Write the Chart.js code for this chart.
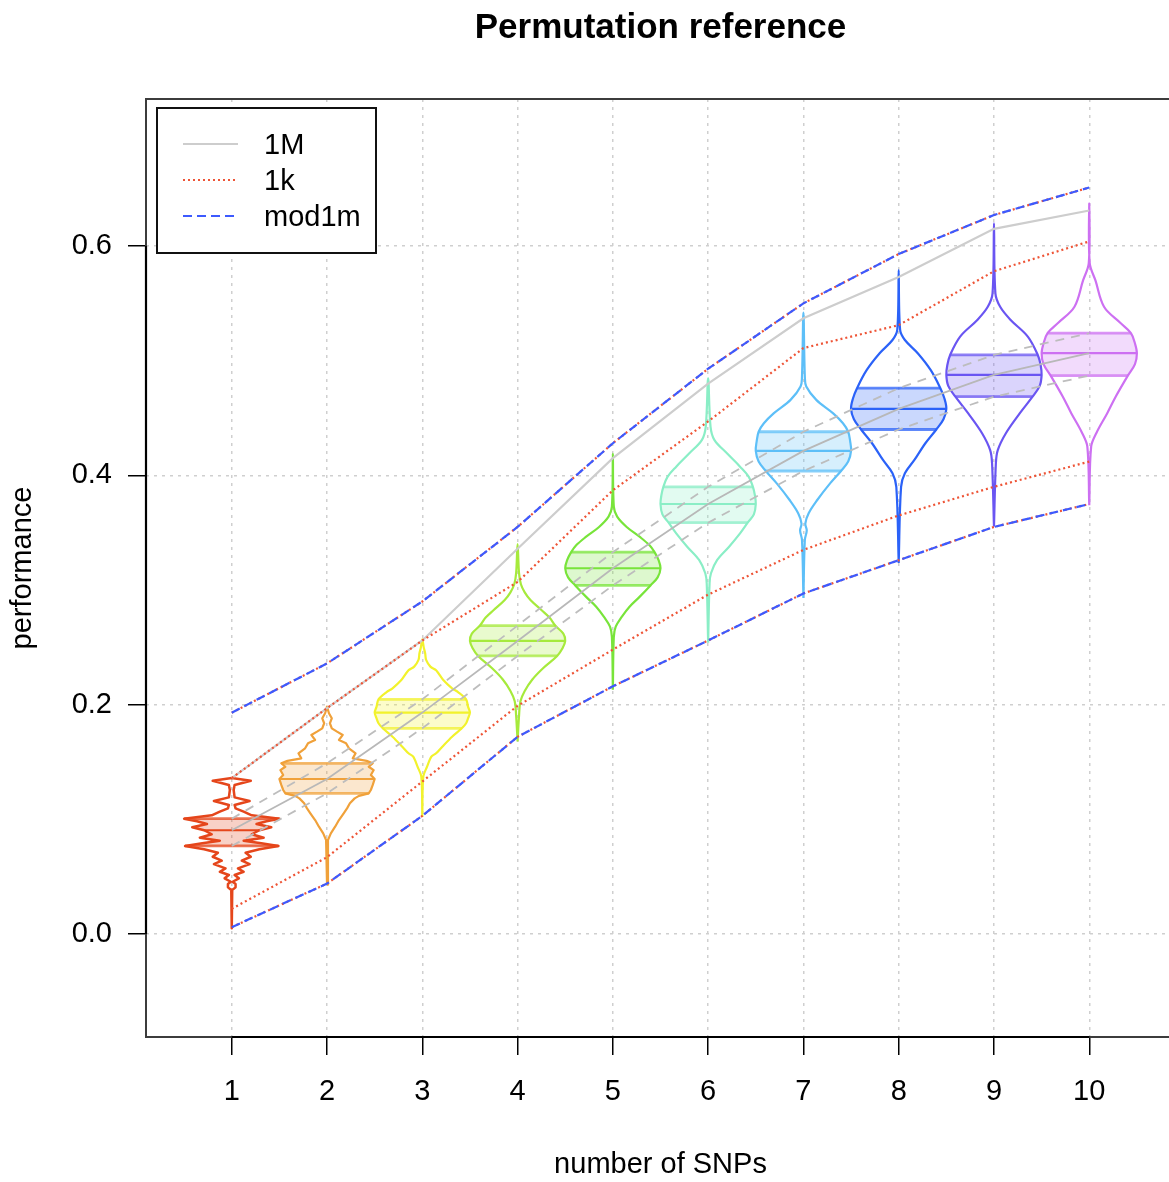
<!DOCTYPE html>
<html>
<head>
<meta charset="utf-8">
<title>Permutation reference</title>
<script src="https://cdn.jsdelivr.net/npm/chart.js@4/dist/chart.umd.min.js"></script>
<style>
  html, body { margin: 0; padding: 0; background: #ffffff; overflow: hidden; }
  #wrap { width: 1320px; height: 1182px; }
  canvas { display: block; }
</style>
</head>
<body>
<div id="wrap"><canvas id="chart" width="1320" height="1182"></canvas></div>
<script>
// ---- values ----
const snps = [1, 2, 3, 4, 5, 6, 7, 8, 9, 10];
const yTicks = [0.0, 0.2, 0.4, 0.6];

// reference bands
const ref1MUpper  = [0.136, 0.197, 0.256, 0.336, 0.415, 0.480, 0.537, 0.573, 0.615, 0.631];
const ref1kUpper  = [0.136, 0.197, 0.256, 0.307, 0.387, 0.447, 0.511, 0.531, 0.578, 0.604];
const ref1kLower  = [0.022, 0.067, 0.133, 0.199, 0.248, 0.296, 0.335, 0.365, 0.390, 0.412];
const mod1mUpper  = [0.193, 0.236, 0.290, 0.355, 0.428, 0.493, 0.550, 0.593, 0.627, 0.651];
const mod1mLower  = [0.006, 0.044, 0.103, 0.172, 0.216, 0.256, 0.297, 0.326, 0.355, 0.375];

// permutation distribution summaries
const permQ1     = [0.0768, 0.1227, 0.1794, 0.2425, 0.304, 0.3587, 0.4038, 0.440, 0.4686, 0.487];
const permMedian = [0.0905, 0.1352, 0.1931, 0.2556, 0.319, 0.375, 0.4213, 0.458, 0.4876, 0.5065];
const permQ3     = [0.1006, 0.1489, 0.2047, 0.269, 0.333, 0.390, 0.438, 0.476, 0.505, 0.524];

// density profiles: performance levels (low to high) and relative density at each level
const densityLevels = [
  [0.005, 0.0384, 0.0407, 0.0436, 0.0456, 0.0486, 0.0515, 0.0543, 0.0573, 0.061, 0.064, 0.0674, 0.0709, 0.0739, 0.0768, 0.0791, 0.0814, 0.084, 0.087, 0.0905, 0.0931, 0.0959, 0.0983, 0.1006, 0.1035, 0.1067, 0.1096, 0.1125, 0.116, 0.1192, 0.1256, 0.13, 0.1337, 0.136],
  [0.043, 0.082, 0.0878, 0.0936, 0.0994, 0.1053, 0.1096, 0.114, 0.1183, 0.1205, 0.1227, 0.1256, 0.13, 0.1352, 0.1387, 0.143, 0.1459, 0.1489, 0.151, 0.1532, 0.1576, 0.162, 0.1663, 0.1692, 0.1736, 0.1765, 0.1794, 0.1838, 0.1881, 0.1925, 0.1983],
  [0.102, 0.137, 0.146, 0.1547, 0.1576, 0.1634, 0.1721, 0.1794, 0.1838, 0.1881, 0.1931, 0.1983, 0.2047, 0.211, 0.2143, 0.2215, 0.230, 0.2332, 0.239, 0.2448, 0.250, 0.257],
  [0.168, 0.190, 0.203, 0.212, 0.222, 0.232, 0.2425, 0.249, 0.2556, 0.262, 0.269, 0.276, 0.2826, 0.2913, 0.298, 0.305, 0.315, 0.340],
  [0.213, 0.259, 0.268, 0.2768, 0.2855, 0.294, 0.304, 0.311, 0.319, 0.326, 0.333, 0.339, 0.3465, 0.355, 0.364, 0.3727, 0.419],
  [0.254, 0.306, 0.3146, 0.3262, 0.3378, 0.3494, 0.3587, 0.366, 0.375, 0.383, 0.390, 0.3989, 0.4076, 0.419, 0.431, 0.4425, 0.4846],
  [0.293, 0.3437, 0.352, 0.358, 0.367, 0.3785, 0.393, 0.4038, 0.412, 0.4213, 0.430, 0.438, 0.4454, 0.454, 0.4658, 0.4774, 0.486, 0.542],
  [0.3236, 0.390, 0.4018, 0.4134, 0.428, 0.440, 0.449, 0.458, 0.467, 0.476, 0.4919, 0.5065, 0.518, 0.5268, 0.579],
  [0.3553, 0.4105, 0.422, 0.4367, 0.454, 0.4686, 0.478, 0.4876, 0.496, 0.505, 0.521, 0.5355, 0.547, 0.5587, 0.620],
  [0.374, 0.425, 0.437, 0.454, 0.469, 0.487, 0.497, 0.5065, 0.515, 0.524, 0.533, 0.547, 0.570, 0.585, 0.637]
];
const densityWidths = [
  [0, 0.01, 0.08, 0.08, 0.02, 0.15, 0.06, 0.25, 0.13, 0.375, 0.21, 0.40, 0.29, 0.58, 0.98, 0.62, 0.25, 0.67, 0.42, 0.58, 0.83, 0.52, 0.73, 1.0, 0.42, 0.25, 0.08, 0.06, 0.375, 0.06, 0.04, 0.06, 0.40, 0],
  [0, 0.02, 0.08, 0.17, 0.25, 0.35, 0.42, 0.48, 0.58, 0.67, 0.875, 0.92, 0.96, 1.0, 0.92, 0.98, 0.875, 0.96, 0.83, 0.54, 0.60, 0.46, 0.40, 0.25, 0.33, 0.21, 0.10, 0.06, 0.10, 0.04, 0],
  [0, 0.02, 0.10, 0.19, 0.29, 0.42, 0.625, 0.83, 0.92, 0.96, 1.0, 0.96, 0.92, 0.75, 0.625, 0.44, 0.29, 0.17, 0.08, 0.06, 0.03, 0],
  [0, 0.03, 0.06, 0.15, 0.31, 0.54, 0.83, 0.94, 1.0, 0.96, 0.79, 0.67, 0.50, 0.27, 0.15, 0.07, 0.03, 0],
  [0, 0.02, 0.06, 0.19, 0.35, 0.56, 0.79, 0.94, 1.0, 0.96, 0.875, 0.77, 0.56, 0.29, 0.09, 0.02, 0],
  [0, 0.03, 0.06, 0.19, 0.44, 0.67, 0.83, 0.96, 1.0, 0.98, 0.94, 0.85, 0.67, 0.40, 0.13, 0.05, 0],
  [0, 0.03, 0.07, 0.04, 0.11, 0.29, 0.56, 0.79, 0.94, 1.0, 0.98, 0.94, 0.83, 0.625, 0.27, 0.06, 0.03, 0],
  [0, 0.05, 0.13, 0.33, 0.56, 0.79, 0.94, 1.0, 0.96, 0.875, 0.67, 0.40, 0.13, 0.03, 0],
  [0, 0.04, 0.08, 0.25, 0.54, 0.81, 0.96, 1.0, 0.98, 0.92, 0.71, 0.35, 0.13, 0.03, 0],
  [0, 0.04, 0.15, 0.375, 0.56, 0.81, 0.96, 1.0, 0.96, 0.875, 0.65, 0.31, 0.13, 0.01, 0]
];

// ---- styles ----
const FONT = '"Liberation Sans", Arial, Helvetica, sans-serif';
const VIOLIN_HALF = 0.5;   // half-width (x units) of the widest violin slice
const violinStroke = ['#E5461B', '#F0A13A', '#F2F22C', '#A6EA3C', '#78E43A', '#8AEEC6', '#5DBFF8', '#2B62F8', '#6A55F2', '#CD70F2'];
const violinTension = [0, 0, 0.3, 0.35, 0.35, 0.35, 0.35, 0.35, 0.35, 0.35];

const style1M   = { color: '#CDCDCD', width: 2.2, dash: [] };
const style1k   = { color: '#EE5436', width: 2.2, dash: [2, 3] };
const styleMod  = { color: '#3D5AFE', width: 2.2, dash: [9, 5] };
const styleMid  = { color: '#B8B8B8', width: 1.8, dash: [] };
const styleQuart = { color: '#BDBDBD', width: 1.8, dash: [9, 7] };

function rgba(hex, a) {
  const n = parseInt(hex.slice(1), 16);
  return `rgba(${(n >> 16) & 255},${(n >> 8) & 255},${n & 255},${a})`;
}

function widthAt(i, level) {
  const lv = densityLevels[i], w = densityWidths[i];
  for (let k = 0; k < lv.length - 1; k++) {
    if (level >= lv[k] && level <= lv[k + 1]) {
      const t = (level - lv[k]) / (lv[k + 1] - lv[k]);
      return (w[k] + t * (w[k + 1] - w[k])) * VIOLIN_HALF;
    }
  }
  return 0;
}

// closed violin outline: up the right side, back down the left side
function outline(i) {
  const lv = densityLevels[i], w = densityWidths[i], x0 = snps[i];
  const right = lv.map((v, k) => ({ x: x0 + w[k] * VIOLIN_HALF, y: v }));
  const left = lv.map((v, k) => ({ x: x0 - w[k] * VIOLIN_HALF, y: v })).reverse();
  return right.concat(left.slice(1));
}

function series(values) {
  return snps.map((s, i) => ({ x: s, y: values[i] }));
}

const base = { showLine: true, pointRadius: 0, pointHoverRadius: 0, fill: false };
function lineDataset(values, st, order) {
  return Object.assign({}, base, {
    data: series(values), borderColor: st.color, borderWidth: st.width,
    borderDash: st.dash, tension: 0, order: order
  });
}

const datasets = [];
const outlineIndex = [];
snps.forEach((s, i) => {
  outlineIndex.push(datasets.length);
  datasets.push(Object.assign({}, base, {
    data: outline(i), borderColor: violinStroke[i], borderWidth: i === 0 ? 2.5 : 2.2,
    borderJoinStyle: 'round', tension: violinTension[i], order: 8
  }));
  [permQ1, permMedian, permQ3].forEach((arr, j) => {
    const q = arr[i], w = widthAt(i, q);
    datasets.push(Object.assign({}, base, {
      data: [{ x: s - w, y: q }, { x: s + w, y: q }],
      borderColor: j === 1 ? violinStroke[i] : rgba(violinStroke[i], 0.75),
      borderWidth: j === 1 ? 2.2 : 2.8, tension: 0, order: 7
    }));
  });
});

// quartile / median connectors
datasets.push(lineDataset(permQ1, styleQuart, 5));
datasets.push(lineDataset(permQ3, styleQuart, 5));
datasets.push(lineDataset(permMedian, styleMid, 5));
// reference bands
datasets.push(lineDataset(ref1MUpper, style1M, 4));
datasets.push(lineDataset(mod1mUpper, style1k, 3));
datasets.push(lineDataset(mod1mLower, style1k, 3));
datasets.push(lineDataset(ref1kUpper, style1k, 2));
datasets.push(lineDataset(ref1kLower, style1k, 2));
datasets.push(lineDataset(mod1mUpper, styleMod, 1));
datasets.push(lineDataset(mod1mLower, styleMod, 1));

const legendItems = [
  { label: '1M', st: style1M },
  { label: '1k', st: style1k },
  { label: 'mod1m', st: styleMod }
];

// shade the interquartile part of each violin, under the outlines
const violinFillPlugin = {
  id: 'violinFill',
  beforeDatasetsDraw(chart) {
    const { ctx, chartArea: a } = chart;
    const y = chart.scales.y;
    outlineIndex.forEach((dsIndex, i) => {
      const meta = chart.getDatasetMeta(dsIndex);
      const line = meta.dataset;
      if (!line) return;
      if (typeof line.updateControlPoints === 'function') line.updateControlPoints(a, meta.iScale.axis);
      const top = y.getPixelForValue(permQ3[i]);
      const bottom = y.getPixelForValue(permQ1[i]);
      ctx.save();
      ctx.beginPath();
      ctx.rect(a.left, top, a.right - a.left, bottom - top);
      ctx.clip();
      ctx.beginPath();
      line.path(ctx);
      ctx.closePath();
      ctx.fillStyle = rgba(violinStroke[i], 0.25);
      ctx.fill();
      ctx.restore();
    });
  }
};

// plot frame, axis lines over the tick range, and the legend box
const framePlugin = {
  id: 'frame',
  afterDraw(chart) {
    const { ctx, chartArea: a } = chart;
    const x = chart.scales.x, y = chart.scales.y;
    ctx.save();
    ctx.setLineDash([]);
    ctx.strokeStyle = '#3c3c3c';
    ctx.lineWidth = 2;
    ctx.strokeRect(a.left, a.top, a.right - a.left, a.bottom - a.top);
    ctx.strokeStyle = '#000';
    ctx.lineWidth = 2.2;
    ctx.beginPath();
    ctx.moveTo(x.getPixelForValue(snps[0]), a.bottom);
    ctx.lineTo(x.getPixelForValue(snps[snps.length - 1]), a.bottom);
    ctx.moveTo(a.left, y.getPixelForValue(yTicks[0]));
    ctx.lineTo(a.left, y.getPixelForValue(yTicks[yTicks.length - 1]));
    ctx.stroke();

    const lx = a.left + 11, ly = a.top + 9, lw = 219, lh = 145;
    ctx.fillStyle = '#fff';
    ctx.fillRect(lx, ly, lw, lh);
    ctx.strokeStyle = '#111';
    ctx.lineWidth = 2;
    ctx.strokeRect(lx, ly, lw, lh);
    ctx.font = '29px ' + FONT;
    ctx.textBaseline = 'middle';
    ctx.textAlign = 'left';
    legendItems.forEach((it, k) => {
      const ry = ly + 36 + k * 36;
      ctx.strokeStyle = it.st.color;
      ctx.lineWidth = it.st.width;
      ctx.setLineDash(it.st.dash);
      ctx.beginPath();
      ctx.moveTo(lx + 26, ry);
      ctx.lineTo(lx + 81, ry);
      ctx.stroke();
      ctx.setLineDash([]);
      ctx.fillStyle = '#000';
      ctx.fillText(it.label, lx + 107, ry + 2);
    });
    ctx.restore();
  }
};

Chart.defaults.font.family = FONT;

new Chart(document.getElementById('chart'), {
  type: 'scatter',
  data: { datasets: datasets },
  plugins: [violinFillPlugin, framePlugin],
  options: {
    responsive: false,
    animation: false,
    devicePixelRatio: 1,
    events: [],
    layout: { padding: { left: 0, right: 145, top: 0, bottom: 0 } },
    plugins: {
      legend: { display: false },
      tooltip: { enabled: false },
      title: {
        display: true, text: 'Permutation reference', color: '#000',
        fullSize: false,
        font: { size: 35, weight: 'bold', family: FONT },
        padding: { top: 7, bottom: 50 }
      }
    },
    scales: {
      x: {
        type: 'linear', min: 0.1, max: 10.9,
        afterBuildTicks: s => { s.ticks = snps.map(v => ({ value: v })); },
        afterFit: s => { s.height = 145; },
        ticks: { autoSkip: false, maxRotation: 0, padding: 20, color: '#000', font: { size: 29 }, callback: v => String(v) },
        grid: { color: '#CFCFCF', lineWidth: 1.5, tickLength: 18, tickColor: '#000', tickWidth: 1.5, tickBorderDash: [] },
        border: { display: false, dash: [3, 5] },
        title: { display: true, text: 'number of SNPs', color: '#000', font: { size: 29 }, padding: { top: 0, bottom: 0 } }
      },
      y: {
        type: 'linear', min: -0.0898, max: 0.7282,
        afterBuildTicks: s => { s.ticks = yTicks.map(v => ({ value: v })); },
        afterFit: s => { s.width = 146; },
        ticks: { padding: 16, color: '#000', font: { size: 29 }, callback: v => Number(v).toFixed(1) },
        grid: { color: '#CFCFCF', lineWidth: 1.5, tickLength: 18, tickColor: '#000', tickWidth: 1.5, tickBorderDash: [] },
        border: { display: false, dash: [3, 5] },
        title: { display: true, text: 'performance', color: '#000', font: { size: 29 }, padding: { top: 6, bottom: 0 } }
      }
    }
  }
});
</script>
</body>
</html>
